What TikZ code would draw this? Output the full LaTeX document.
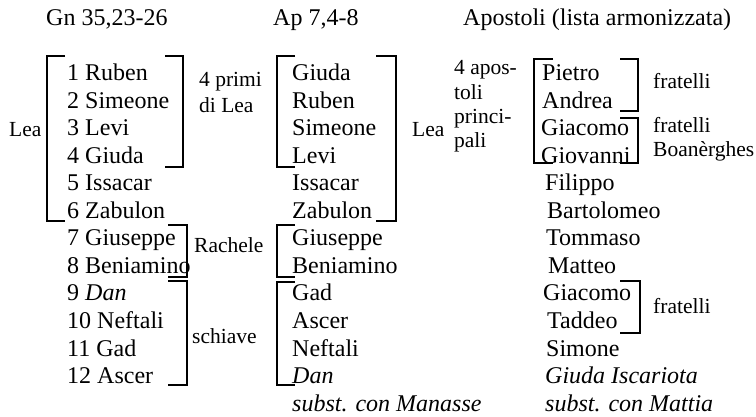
\documentclass[tikz,border=0pt]{standalone}
\usepackage{fontspec}
\setmainfont{Liberation Serif}
\begin{document}
\begin{tikzpicture}[x=1pt,y=-1pt,
    item/.style={anchor=base west,inner sep=0pt,font=\fontsize{24}{27}\selectfont},
    note/.style={anchor=base west,inner sep=0pt,font=\fontsize{21.5}{24}\selectfont},
    brk/.style={line width=1.6pt}]
  \useasboundingbox (0,0) rectangle (756,417);
  % titoli
  \node[item] (hgn) at (46,26) {Gn 35,23-26};
  \node[item] (hap) at (273,26) {Ap 7,4-8};
  \node[item] (hapo) at (463,26) {Apostoli (lista armonizzata)};
  % Genesi
  \foreach \t [count=\i] in {1 Ruben,2 Simeone,3 Levi,4 Giuda,5 Issacar,6 Zabulon,
      7 Giuseppe,8 Beniamino,9 \textit{Dan},10 Neftali,11 Gad,12 Ascer}
    \node[item] (g\i) at (67,{81+27.5*(\i-1)}) {\t};
  % Apocalisse
  \foreach \t [count=\i] in {Giuda,Ruben,Simeone,Levi,Issacar,Zabulon,Giuseppe,
      Beniamino,Gad,Ascer,Neftali,\textit{Dan},\textit{subst. con Manasse}}
    \node[item] (a\i) at (292,{81+27.5*(\i-1)}) {\t};
  % apostoli
  \foreach \x/\t [count=\i] in {542/Pietro,542/Andrea,541/Giacomo,541/Giovanni,
      545/Filippo,547/Bartolomeo,546/Tommaso,548/Matteo,543/Giacomo,547/Taddeo,
      546/Simone,545/\textit{Giuda Iscariota},545/\textit{subst. con Mattia}}
    \node[item] (p\i) at (\x,{81+27.5*(\i-1)}) {\t};

  % parentesi, colonna 1
  \draw[brk] (65,56) -| (47,221) -- (65,221);
  \draw[brk] (165,56) -| (183,167) -- (165,167);
  \draw[brk] (168,225) -| (187,277) -- (168,277);
  \draw[brk] (168,281) -| (187,385) -- (168,385);
  \node[note] (lea1) at (9,137) {Lea};
  \node[note] (prim1) at (199,87) {4 primi};
  \node[note] (prim2) at (199,113) {di Lea};
  \node[note] (rach) at (194,253) {Rachele};
  \node[note] (schi) at (192,343) {schiave};

  % parentesi, colonna 2
  \draw[brk] (295,56) -| (277,167) -- (295,167);
  \draw[brk] (376,56) -| (396,221) -- (376,221);
  \draw[brk] (295,225) -| (277,277) -- (295,277);
  \draw[brk] (295,282) -| (277,385) -- (295,385);
  \node[note] (lea2) at (412,137) {Lea};
  \node[note] (apo1) at (454,75) {4 apos-};
  \node[note] (apo2) at (454,100) {toli};
  \node[note] (apo3) at (454,124) {princi-};
  \node[note] (apo4) at (454,148) {pali};

  % parentesi, colonna 3
  \draw[brk] (553,59) -| (534,163) -- (553,163);
  \draw[brk] (620,59) -| (638,111) -- (620,111);
  \draw[brk] (620,118) -| (638,163) -- (620,163);
  \draw[brk] (620,281) -| (640,333) -- (620,333);
  \node[note] (fra1) at (653,89) {fratelli};
  \node[note] (fra2) at (653,133) {fratelli};
  \node[note] (boan) at (653,157) {Boanèrghes};
  \node[note] (fra3) at (653,313) {fratelli};
\end{tikzpicture}
\end{document}
